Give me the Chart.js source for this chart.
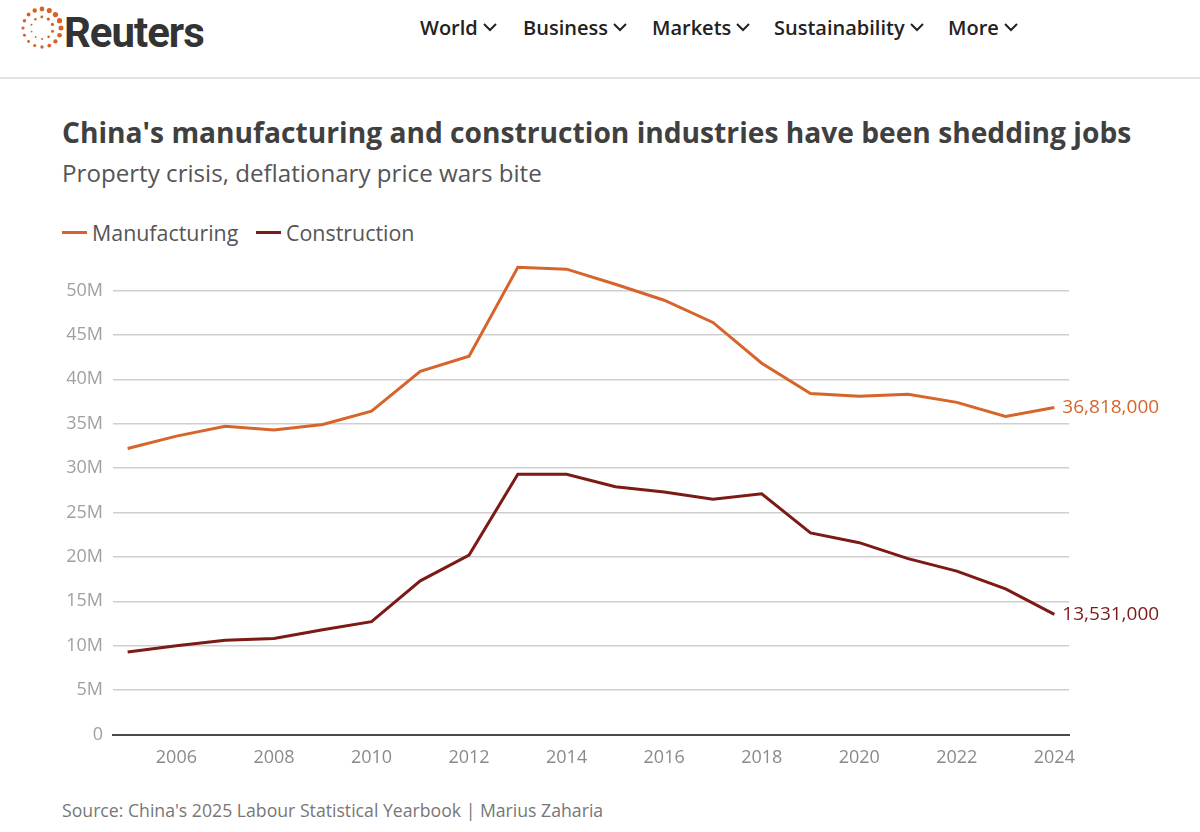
<!DOCTYPE html>
<html>
<head>
<meta charset="utf-8">
<script src="https://cdn.jsdelivr.net/npm/chart.js@4.4.1/dist/chart.umd.min.js"></script>
<style>
  html, body { margin: 0; padding: 0; background: #fff; }
  body { width: 1200px; height: 832px; position: relative; overflow: hidden; font-family: "Open Sans", sans-serif; }
  .abs { position: absolute; white-space: nowrap; }
  .nav { font-weight: 600; color: #222; font-size: 20px; top: 14px; }
  .nav svg { margin-left: 5px; vertical-align: 3px; }
  #sep { position: absolute; left: 0; top: 77px; width: 1200px; height: 2px; background: #e4e4e4; }
  #title { left: 62px; top: 113px; font-weight: 700; font-size: 27px; color: #404040; }
  #subtitle { left: 62px; top: 156px; font-size: 23px; color: #555; }
  .leg { top: 218px; font-size: 21.4px; color: #555; }
  .leg i { display: inline-block; width: 25px; height: 3px; vertical-align: 7px; margin-right: 5px; }
  #source { left: 62px; top: 798px; font-size: 18px; color: #777; }
  #wrap { position: absolute; left: 0; top: 242.5px; width: 1200px; height: 547.5px; }
</style>
</head>
<body>
<svg class="abs" style="left:20px;top:4px" width="44" height="48" viewBox="0 0 44 48" id="logo"></svg>
<div class="abs" id="brand" style="left:64px;top:8px;font-family:Roboto,sans-serif;font-weight:700;font-size:30px;color:#333;letter-spacing:-1px">Reuters</div>

<div class="abs nav" style="left:420px">World<svg width="14" height="9"><path d="M1 1 L7 7 L13 1" stroke="#222" stroke-width="2" fill="none"/></svg></div>
<div class="abs nav" style="left:523px">Business<svg width="14" height="9"><path d="M1 1 L7 7 L13 1" stroke="#222" stroke-width="2" fill="none"/></svg></div>
<div class="abs nav" style="left:652px">Markets<svg width="14" height="9"><path d="M1 1 L7 7 L13 1" stroke="#222" stroke-width="2" fill="none"/></svg></div>
<div class="abs nav" style="left:774px">Sustainability<svg width="14" height="9"><path d="M1 1 L7 7 L13 1" stroke="#222" stroke-width="2" fill="none"/></svg></div>
<div class="abs nav" style="left:948px">More<svg width="14" height="9"><path d="M1 1 L7 7 L13 1" stroke="#222" stroke-width="2" fill="none"/></svg></div>
<div id="sep"></div>

<div class="abs" id="title">China's manufacturing and construction industries have been shedding jobs</div>
<div class="abs" id="subtitle">Property crisis, deflationary price wars bite</div>
<div class="abs leg" id="leg0" style="left:62px"></div>
<div class="abs leg" id="leg1" style="left:256px"></div>

<div id="wrap"><canvas id="chart"></canvas></div>
<div class="abs" id="source">Source: China's 2025 Labour Statistical Yearbook | Marius Zaharia</div>

<script>
// === Data (millions of workers) ===
const years = [2005, 2006, 2007, 2008, 2009, 2010, 2011, 2012, 2013, 2014,
               2015, 2016, 2017, 2018, 2019, 2020, 2021, 2022, 2023, 2024];
const manufacturing = [32.2, 33.6, 34.7, 34.3, 34.9, 36.4, 40.9, 42.6, 52.6, 52.4,
                       50.7, 48.9, 46.4, 41.8, 38.4, 38.1, 38.3, 37.4, 35.8, 36.818];
const construction = [9.3, 10.0, 10.6, 10.8, 11.8, 12.7, 17.3, 20.2, 29.3, 29.3,
                      27.9, 27.3, 26.5, 27.1, 22.7, 21.6, 19.8, 18.4, 16.4, 13.531];
const seriesNames = ['Manufacturing', 'Construction'];
const seriesColors = ['#d6652c', '#7c1a16'];
const yTicks = [0, 5, 10, 15, 20, 25, 30, 35, 40, 45, 50];
const xTicks = [2006, 2008, 2010, 2012, 2014, 2016, 2018, 2020, 2022, 2024];

// logo dots
(function () {
  const svg = document.getElementById('logo');
  let s = '';
  const rings = [[19, 16, 2.4], [11, 10, 1.5]];
  rings.forEach(([r, n, d], k) => {
    for (let i = 0; i < n; i++) {
      const a = (i / n) * Math.PI * 2 + k * 0.3;
      const sz = d * (0.6 + 0.5 * (1 + Math.sin(a + 2.2)) / 2);
      s += `<circle cx="${22 + r * Math.cos(a)}" cy="${24 + r * Math.sin(a)}" r="${sz}" fill="#d4622a"/>`;
    }
  });
  svg.innerHTML = s;
})();

// legend
seriesNames.forEach((n, i) => {
  document.getElementById('leg' + i).innerHTML = `<i style="background:${seriesColors[i]}"></i>${n}`;
});

// fit text widths to the reference
function fit(id, w) {
  const el = document.getElementById(id);
  const fs = parseFloat(getComputedStyle(el).fontSize);
  el.style.fontSize = (fs * w / el.offsetWidth) + 'px';
}
fit('title', 1070);
fit('subtitle', 480);
fit('source', 542);
fit('brand', 137);

// === End labels ===
const endLabels = {
  id: 'endLabels',
  afterDatasetsDraw(chart) {
    const ctx = chart.ctx;
    ctx.save();
    ctx.font = '19px "Open Sans", sans-serif';
    ctx.textBaseline = 'middle';
    ctx.textAlign = 'left';
    chart.data.datasets.forEach((ds, i) => {
      const pts = chart.getDatasetMeta(i).data;
      const p = pts[pts.length - 1];
      const v = ds.data[ds.data.length - 1].y;
      ctx.fillStyle = ds.borderColor;
      ctx.fillText(Math.round(v * 1e6).toLocaleString('en-US'), p.x + 8, p.y);
    });
    ctx.restore();
  }
};

const toXY = arr => arr.map((v, i) => ({ x: years[i], y: v }));

new Chart(document.getElementById('chart'), {
  type: 'line',
  data: {
    datasets: [
      { label: seriesNames[0], data: toXY(manufacturing), borderColor: seriesColors[0], backgroundColor: seriesColors[0],
        borderWidth: 3, pointRadius: 0, tension: 0, clip: false },
      { label: seriesNames[1], data: toXY(construction), borderColor: seriesColors[1], backgroundColor: seriesColors[1],
        borderWidth: 3, pointRadius: 0, tension: 0, clip: false }
    ]
  },
  options: {
    responsive: true,
    maintainAspectRatio: false,
    animation: false,
    layout: { padding: { top: 5, right: 131, bottom: 0, left: 0 } },
    plugins: { legend: { display: false }, tooltip: { enabled: false } },
    scales: {
      x: {
        type: 'linear',
        min: 2004.7,
        max: 2024.3,
        afterBuildTicks: s => { s.ticks = xTicks.map(v => ({ value: v })); },
        afterFit: s => { s.height = 56; },
        grid: { display: false },
        border: { display: true, color: '#4a4a4a', width: 2 },
        ticks: { color: '#8a8a8a', font: { family: 'Open Sans', size: 18 }, padding: 5,
                 maxRotation: 0, autoSkip: false, callback: v => String(v) }
      },
      y: {
        min: 0,
        max: 53,
        afterBuildTicks: s => { s.ticks = yTicks.map(v => ({ value: v })); },
        afterFit: s => { s.width = 113; },
        grid: { color: '#cfcfcf', lineWidth: 1.5, drawTicks: false },
        border: { display: false },
        ticks: { color: '#a0a0a0', font: { family: 'Open Sans', size: 18 }, padding: 10,
                 callback: v => v === 0 ? '0' : v + 'M' }
      }
    }
  },
  plugins: [endLabels]
});
</script>
</body>
</html>
